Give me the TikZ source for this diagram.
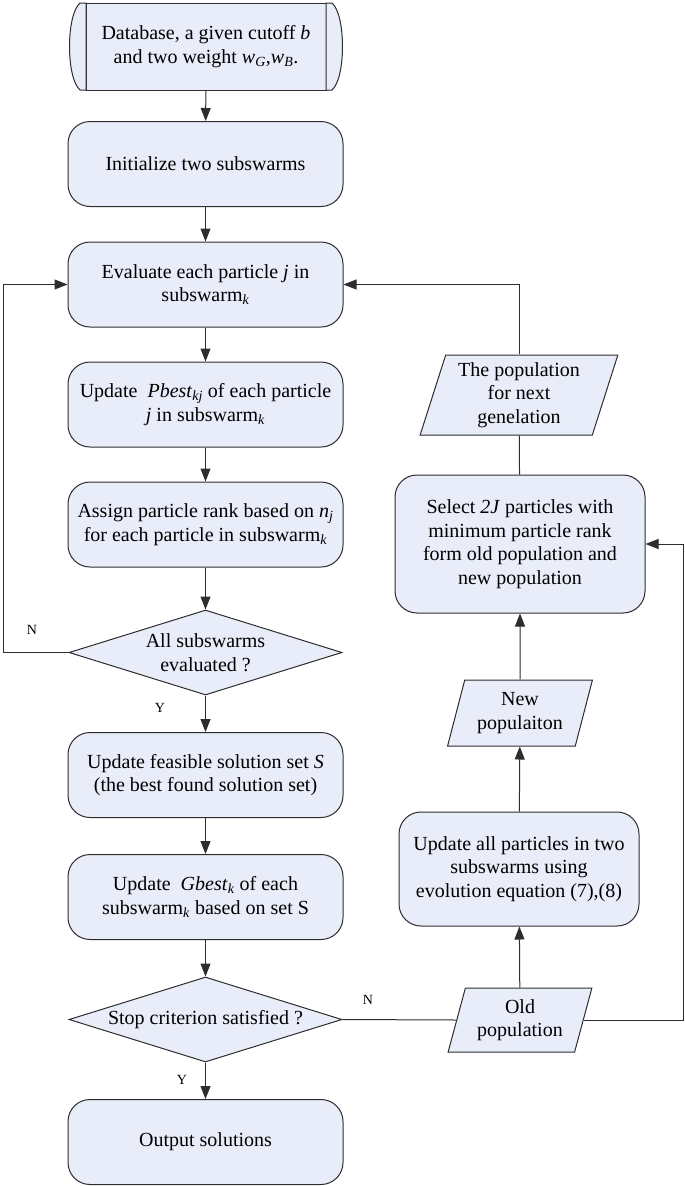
\documentclass[tikz,border=0pt]{standalone}
\usepackage{fontspec}
\setmainfont{Liberation Serif}
\usetikzlibrary{shapes.geometric,arrows.meta}
\definecolor{boxfill}{RGB}{233,237,249}
\definecolor{edge}{RGB}{45,45,45}
\newcommand{\idx}[1]{\textsubscript{\textit{#1}}}
\tikzset{
  box/.style={draw=edge,fill=boxfill,line width=1pt,rounded corners=22pt,align=center,inner sep=0pt,minimum width=275pt,minimum height=85pt},
  dbox/.style={draw=edge,fill=boxfill,line width=1pt,align=center,inner sep=0pt,minimum width=240pt,minimum height=87pt},
  decision/.style={diamond,draw=edge,fill=boxfill,line width=1pt,inner sep=0pt,minimum width=273pt,minimum height=85pt},
  io/.style={trapezium,trapezium left angle=72,trapezium right angle=108,trapezium stretches=true,draw=edge,fill=boxfill,line width=1pt,align=center,inner sep=0pt},
  txt/.style={align=center,inner sep=0pt},
  lbl/.style={font=\fontsize{14}{16}\selectfont},
  line/.style={draw=edge,line width=1pt},
  arr/.style={line,-{Triangle[length=13pt,width=10pt]}}
}
\begin{document}
\begin{tikzpicture}[x=1pt,y=-1pt]
\fontsize{20}{23.5}\selectfont
\useasboundingbox (0,0) rectangle (685,1186);

\node[dbox] (db) at (206,46.5) {Database, a given cutoff \textit{b}\\and two weight \textit{w}\idx{G},\textit{w}\idx{B}.};
\filldraw[line,fill=boxfill] (86,3) -- (80,3) .. controls (66,15) and (66,78) .. (80,90) -- (86,90) -- cycle;
\filldraw[line,fill=boxfill] (326,3) -- (332,3) .. controls (346,15) and (346,78) .. (332,90) -- (326,90) -- cycle;

\node[box] (init) at (205.5,164) {Initialize two subswarms};
\node[box] (eval) at (205.5,284.5) {Evaluate each particle \textit{j} in\\subswarm\idx{k}};
\node[box] (pbest) at (205.5,404.5) {Update \ \textit{Pbest}\idx{kj} of each particle\\\textit{j} in subswarm\idx{k}};
\node[box] (rank) at (205.5,524.5) {Assign particle rank based on \textit{n}\idx{j}\\for each particle in subswarm\idx{k}};
\node[decision,label={[txt]center:All subswarms\\evaluated ?}] (alleval) at (205.5,652.5) {};
\node[box] (feas) at (205.5,775) {Update feasible solution set \textit{S}\\(the best found solution set)};
\node[box] (gbest) at (205.5,897) {Update \ \textit{Gbest}\idx{k} of each\\subswarm\idx{k} based on set S};
\node[decision,label={[txt]center:Stop criterion satisfied ?}] (stop) at (205.5,1019.5) {};
\node[box] (out) at (205.5,1142) {Output solutions};

\node[io,minimum width=198pt,minimum height=80pt] (nextgen) at (519,395) {The population\\for next\\genelation};
\node[box,minimum width=250pt,minimum height=138pt] (select) at (520,544) {Select \textit{2J} particles with\\minimum particle rank\\form old population and\\new population};
\node[io,minimum width=145pt,minimum height=66pt] (newpop) at (520,713) {New\\populaiton};
\node[box,minimum width=240pt,minimum height=114pt] (update) at (519,869) {Update all particles in two\\subswarms using\\evolution equation (7),(8)};
\node[io,minimum width=144pt,minimum height=64pt] (oldpop) at (520,1020) {Old\\population};

\draw[arr] (db) -- (init);
\draw[arr] (init) -- (eval);
\draw[arr] (eval) -- (pbest);
\draw[arr] (pbest) -- (rank);
\draw[arr] (rank) -- (alleval);
\draw[arr] (alleval.west) -- ++(-65,0) |- (eval.west);
\draw[arr] (alleval) -- (feas);
\draw[arr] (feas) -- (gbest);
\draw[arr] (gbest) -- (stop);
\draw[arr] (stop) -- (out);
\draw[line] (stop.east) -- (oldpop.west);
\draw[arr] (oldpop) -- (update);
\draw[arr] (update) -- (newpop);
\draw[arr] (newpop) -- (select);
\draw[arr] (oldpop.east) -- ++(100,0) |- (select.east);
\draw[line] (select) -- (nextgen);
\draw[arr] (nextgen.north) |- (eval.east);

\node[lbl] (n1) at (32,630) {N};
\node[lbl] (y1) at (160,708) {Y};
\node[lbl] (y2) at (182,1080) {Y};
\node[lbl] (n2) at (368,1000) {N};
\end{tikzpicture}
\end{document}
